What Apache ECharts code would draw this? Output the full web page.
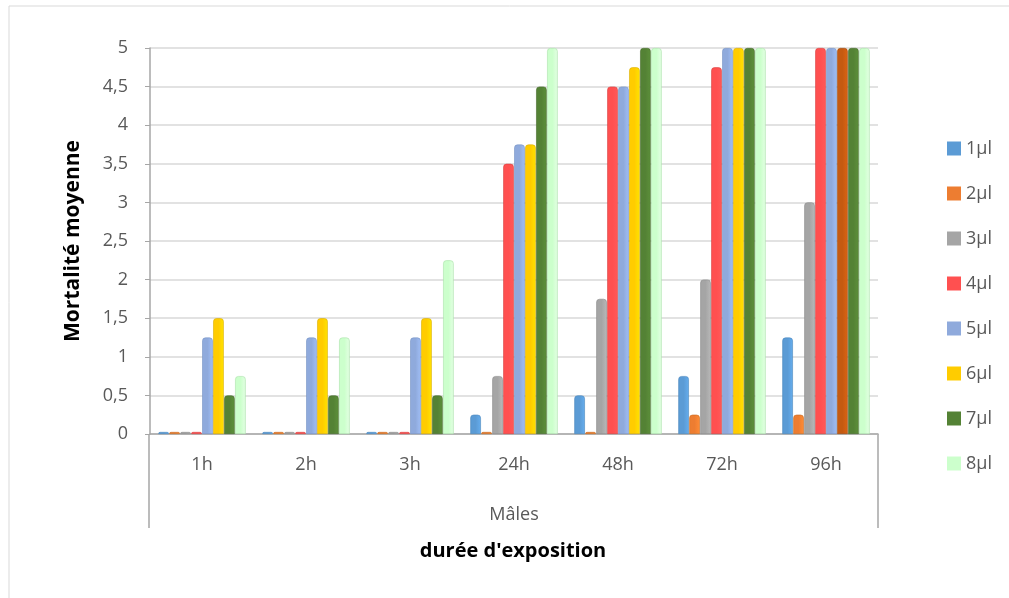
<!DOCTYPE html>
<html>
<head>
<meta charset="utf-8">
<script src="https://cdn.jsdelivr.net/npm/echarts@6/dist/echarts.min.js"></script>
<style>
html,body{margin:0;padding:0;background:#fff;}
#chart{width:1009px;height:598px;}
</style>
</head>
<body>
<div id="chart"></div>
<script>
const categories = ['1h', '2h', '3h', '24h', '48h', '72h', '96h'];
const seriesNames = ['1µl', '2µl', '3µl', '4µl', '5µl', '6µl', '7µl', '8µl'];
const s1 = [0, 0, 0, 0.25, 0.5, 0.75, 1.25];
const s2 = [0, 0, 0, 0, 0, 0.25, 0.25];
const s3 = [0, 0, 0, 0.75, 1.75, 2, 3];
const s4 = [0, 0, 0, 3.5, 4.5, 4.75, 5];
const s5 = [1.25, 1.25, 1.25, 3.75, 4.5, 5, 5];
const s6 = [1.5, 1.5, 1.5, 3.75, 4.75, 5, 5];
const s7 = [0.5, 0.5, 0.5, 4.5, 5, 5, 5];
const s8 = [0.75, 1.25, 2.25, 5, 5, 5, 5];
const groupLabel = 'Mâles';
const xTitle = "durée d'exposition";
const yTitle = 'Mortalité moyenne';

const colors = ['#5B9BD5', '#ED7D31', '#A5A5A5', '#FF5050', '#8FAADC', '#FFCC00', '#548235', '#CCFFCC'];
const borders = ['#4a86bd', '#c8691f', '#8a8a8a', '#d94040', '#7592c4', '#d9ad00', '#44692a', '#a9e0a9'];
const allData = [s1, s2, s3, s4, s5, s6, s7, s8];

function grad(c) {
  return new echarts.graphic.LinearGradient(0, 0, 1, 0, [
    {offset: 0, color: c},
    {offset: 0.5, color: c},
    {offset: 1, color: echarts.color.lift(c, -0.12)}
  ]);
}

const series = allData.map((d, i) => ({
  name: seriesNames[i],
  type: 'bar',
  barGap: '4%',
  barCategoryGap: '16%',
  barMinHeight: 2,
  itemStyle: {color: grad(colors[i]), borderColor: borders[i], borderWidth: 0.6, borderRadius: [3, 3, 0, 0]},
  data: d.map((v, j) => {
    if (i === 5 && j === 6) {
      return {value: v, itemStyle: {color: grad('#C55A11'), borderColor: '#9e470c'}};
    }
    return v;
  })
}));

const chart = echarts.init(document.getElementById('chart'));
chart.setOption({
  animation: false,
  color: colors,
  textStyle: {fontFamily: 'Open Sans'},
  grid: {left: 150, right: 131, top: 48, bottom: 164},
  legend: {
    orient: 'vertical',
    left: 942,
    top: 131,
    itemWidth: 14,
    itemHeight: 14,
    itemGap: 20,
    icon: 'rect',
    textStyle: {color: '#595959', fontSize: 18, fontFamily: 'Open Sans', lineHeight: 25},
    data: seriesNames.map((n, i) => ({name: n, itemStyle: {color: colors[i], borderWidth: 0}}))
  },
  xAxis: [{
    type: 'category',
    data: categories,
    axisLine: {lineStyle: {color: '#a6a6a6', width: 1.5}},
    axisTick: {show: false},
    axisLabel: {color: '#595959', fontSize: 18, margin: 22},
    name: groupLabel,
    nameLocation: 'middle',
    nameGap: 72,
    nameTextStyle: {color: '#595959', fontSize: 18}
  }],
  yAxis: {
    type: 'value',
    min: 0,
    max: 5,
    interval: 0.5,
    axisLine: {show: true, lineStyle: {color: '#a6a6a6', width: 1.5}},
    axisTick: {show: true, length: 5, lineStyle: {color: '#a6a6a6'}},
    axisLabel: {color: '#595959', fontSize: 18, margin: 22, formatter: v => String(v).replace('.', ',')},
    splitLine: {lineStyle: {color: '#d9d9d9', width: 1.5}},
    name: yTitle,
    nameLocation: 'middle',
    nameGap: 66,
    nameTextStyle: {color: '#000', fontSize: 21, fontWeight: 'bold'}
  },
  graphic: [
    {type: 'rect', shape: {x: 9, y: 6, width: 1100, height: 700}, style: {fill: 'none', stroke: '#d9d9d9', lineWidth: 1}, silent: true},
    {type: 'line', shape: {x1: 149, y1: 434, x2: 149, y2: 528}, style: {stroke: '#a6a6a6', lineWidth: 1.5}},
    {type: 'line', shape: {x1: 878, y1: 434, x2: 878, y2: 528}, style: {stroke: '#a6a6a6', lineWidth: 1.5}},
    {type: 'text', x: 513, y: 551, style: {text: xTitle, fill: '#000', fontSize: 20, fontWeight: 'bold', fontFamily: 'Open Sans', textAlign: 'center', textVerticalAlign: 'middle'}, z: 10}
  ],
  series: series
});
</script>
</body>
</html>
